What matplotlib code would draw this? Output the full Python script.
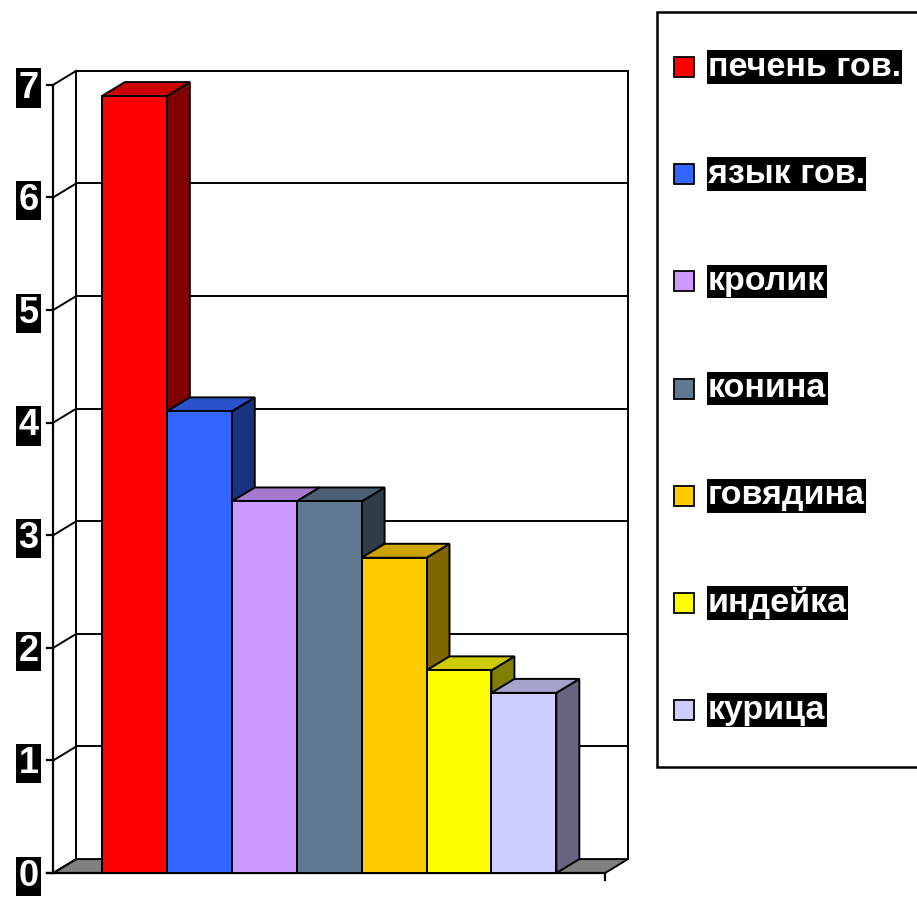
import matplotlib
matplotlib.use("Agg")
import matplotlib.pyplot as plt
from matplotlib.patches import Polygon, Rectangle
import numpy as np

plt.rcParams['font.family'] = ['Liberation Sans', 'DejaVu Sans']

categories = ["печень гов.", "язык гов.", "кролик", "конина", "говядина", "индейка", "курица"]
values = [6.9, 4.1, 3.3, 3.3, 2.8, 1.8, 1.6]
colors = ["#FF0000", "#3366FF", "#CC99FF", "#607890", "#FFCC00", "#FFFF00", "#CCCCFF"]
yticks = [0, 1, 2, 3, 4, 5, 6, 7]

# 3D geometry (data units)
DX, DY = 0.354, 0.124
XL, XR = -1.25, 7.25
EDGE = 1.4

def shade(c, f):
    r, g, b = matplotlib.colors.to_rgb(c)
    return (r * f, g * f, b * f)

fig = plt.figure(figsize=(9.17, 8.97), dpi=100)
ax = fig.add_axes([0.04395, 0.01416, 0.6477, 0.9290])
ax.set_xlim(-1.45, 7.7)
ax.set_ylim(-0.1, 7.3)
ax.axis('off')

ymax = yticks[-1]
# floor
floor = Polygon([(XL, 0), (XR, 0), (XR + DX, DY), (XL + DX, DY)], closed=True,
                facecolor="#808080", edgecolor="black", lw=EDGE, zorder=1)
ax.add_patch(floor)
# back wall gridlines and borders
for k in yticks:
    if k > 0:
        ax.plot([XL + DX, XR + DX], [k + DY, k + DY], color="black", lw=EDGE, zorder=1)
    ax.plot([XL, XL + DX], [k, k + DY], color="black", lw=EDGE, zorder=1)
    ax.plot([XL - 0.1, XL], [k, k], color="black", lw=1.6, zorder=3, clip_on=False)
    ax.text(XL - 0.38, k - 0.03, str(k), color="white", fontsize=26, fontweight="bold",
            ha="center", va="center", clip_on=False,
            bbox=dict(boxstyle="square,pad=0.06", facecolor="black", edgecolor="none"))
ax.plot([XL + DX, XL + DX], [DY, ymax + DY], color="black", lw=EDGE, zorder=1)
ax.plot([XR + DX, XR + DX], [DY, ymax + DY], color="black", lw=EDGE, zorder=1)
ax.plot([XL, XL], [0, ymax], color="black", lw=1.6, zorder=3)
ax.plot([XL - 0.1, XR], [0, 0], color="black", lw=1.6, zorder=3, clip_on=False)
ax.plot([XR, XR], [0, -0.065], color="black", lw=1.6, zorder=3, clip_on=False)

# bars
for i, (v, c) in enumerate(zip(values, colors)):
    x0, x1 = i - 0.5, i + 0.5
    z = 5 + i
    front = Polygon([(x0, 0), (x1, 0), (x1, v), (x0, v)], closed=True,
                    facecolor=c, edgecolor="black", lw=EDGE, zorder=z)
    side = Polygon([(x1, 0), (x1 + DX, DY), (x1 + DX, v + DY), (x1, v)], closed=True,
                   facecolor=shade(c, 0.5), edgecolor="black", lw=EDGE, zorder=z)
    top = Polygon([(x0, v), (x0 + DX, v + DY), (x1 + DX, v + DY), (x1, v)], closed=True,
                  facecolor=shade(c, 0.8), edgecolor="black", lw=EDGE, zorder=z)
    for p in (side, top, front):
        ax.add_patch(p)

# legend (drawn in pixel coordinates of an overlay axes)
lax = fig.add_axes([0, 0, 1, 1])
lax.set_xlim(0, 917)
lax.set_ylim(897, 0)
lax.axis('off')
lax.add_patch(Rectangle((657, 12), 300, 755, facecolor="white", edgecolor="black", lw=1.8))
for j, (name, c) in enumerate(zip(categories, colors)):
    yc = 67 + j * 107.2
    lax.add_patch(Rectangle((674, yc - 10), 20, 20, facecolor=c, edgecolor="black", lw=1.3))
    lax.text(708, yc, name, color="white", fontsize=24.5, fontweight="bold",
             ha="left", va="center",
             bbox=dict(boxstyle="square,pad=0.04", facecolor="black", edgecolor="none"))

fig.savefig("out.png", dpi=100)
